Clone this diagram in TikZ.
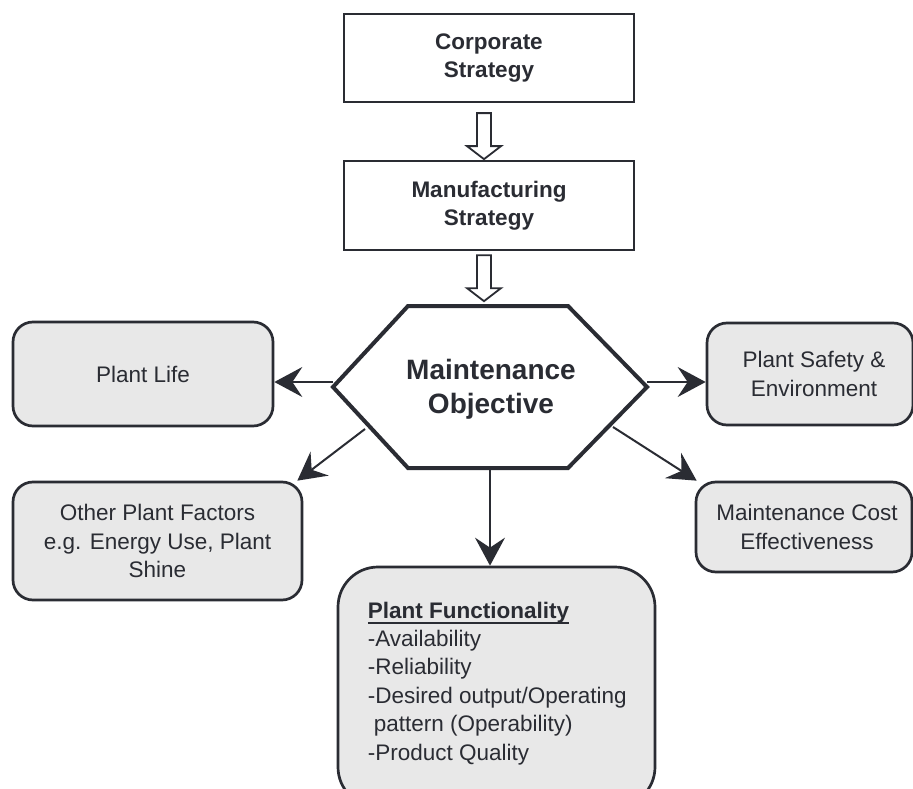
\documentclass[tikz,border=0pt]{standalone}
\usepackage{fontspec}
\setmainfont{Liberation Sans}
\newcommand{\myul}[1]{\setbox0\hbox{#1}\rlap{\usebox0}\rule[-6pt]{\wd0}{1.8pt}}
\usetikzlibrary{arrows.meta,calc}
\definecolor{ink}{HTML}{2A2C33}
\definecolor{boxfill}{HTML}{E8E8E8}
\begin{document}
\begin{tikzpicture}[x=1pt,y=-1pt,
  sbox/.style={draw=ink, line width=2.3pt, fill=white, minimum width=290pt, align=center,
    font=\fontsize{22.5}{28}\selectfont\bfseries, text=ink},
  gbox/.style={draw=ink, line width=2.7pt, fill=boxfill, rounded corners=20pt, align=center,
    font=\fontsize{22.5}{28.5}\selectfont, text=ink},
  conn/.style={draw=ink, line width=2pt, -{Stealth[length=28pt,width=30pt,inset=10pt]}},
  hollow/.style={draw=ink, line width=1.8pt, fill=white, line join=miter},
  hexline/.style={draw=ink, line width=4pt, line join=miter, fill=white},
  lbl/.style={text=ink, inner sep=0pt}]
\clip (0,0) rectangle (913,789);
\fill[white] (0,0) rectangle (913,789);

% top boxes
\node[sbox, minimum height=88pt] (corp) at (489,58) {Corporate\\Strategy};
\node[sbox, minimum height=89pt] (manu) at (489,205.5) {Manufacturing\\Strategy};

% hollow arrows
\draw[hollow] ($(corp.south)+(-12,10)$) -- ++(14,0) -- ++(0,33) -- ++(10,0) -- ++(-17,13)
  -- ++(-17,-13) -- ++(10,0) -- cycle;
\draw[hollow] ($(manu.south)+(-12,4)$) -- ++(14,0) -- ++(0,33) -- ++(10,0) -- ++(-17,13)
  -- ++(-17,-13) -- ++(10,0) -- cycle;

% hexagon
\draw[hexline] (408,306) -- (568,306) -- (647,387) -- (568,468) -- (408,468) -- (333,387) -- cycle;
\node[lbl, font=\fontsize{28}{34}\selectfont\bfseries, align=center] (mo) at (491,389) {Maintenance\\Objective};
\coordinate (hl) at (333,382);
\coordinate (hol) at (365,429);
\coordinate (hr) at (647,382);
\coordinate (hor) at (613,427);
\coordinate (hb) at (490,468);

% side boxes
\node[gbox, minimum width=260pt, minimum height=104pt] (life) at (143,374) {Plant Life};
\node[gbox, minimum width=289pt, minimum height=118pt] (other) at (157.5,541)
  {Other Plant Factors\\e.g. Energy Use, Plant\\Shine};
\node[gbox, minimum width=206pt, minimum height=102pt] (safety) at (810,374)
  {\hspace*{8pt}Plant Safety \&\\\hspace*{8pt}Environment};
\node[gbox, minimum width=216pt, minimum height=90pt] (cost) at (804,527)
  {\hspace*{6pt}Maintenance Cost\\\hspace*{6pt}Effectiveness};

% functionality box
\node[gbox, rounded corners=40pt, minimum width=317pt, minimum height=240pt] (func) at (496.5,687) {};
\node[lbl, anchor=north west, align=left, font=\fontsize{22.5}{28.4}\selectfont] (functext)
  at ($(func.north west)+(31,36)$)
  {\myul{\textbf{Plant Functionality}}\\
   -Availability\\
   -Reliability\\
   -Desired output/Operating\\
   \hspace*{6pt}pattern (Operability)\\
   -Product Quality};

% connectors
\draw[conn] (hl) -- (hl -| life.east);
\draw[conn] (hol) -- ($(other.north east)+(-6,0)$);
\draw[conn] (hr) -- (hr -| safety.west);
\draw[conn] (hor) -- ($(cost.north west)+(2,0)$);
\draw[conn] (hb) -- (hb |- func.north);
\end{tikzpicture}
\end{document}
